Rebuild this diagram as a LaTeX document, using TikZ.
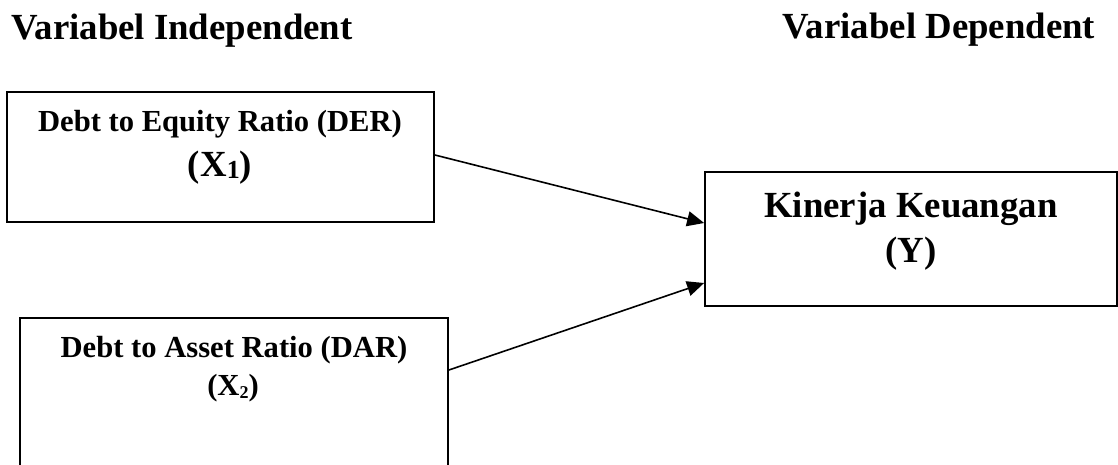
\documentclass[tikz,border=0pt]{standalone}
\usepackage{fontspec}
\setmainfont{Liberation Serif}
\usetikzlibrary{arrows.meta}
\tikzset{
  boxnode/.style={draw=black, line width=1.8pt, rectangle, inner sep=0pt},
  headtext/.style={anchor=base, inner sep=0pt, font=\fontsize{36.8}{40}\selectfont\bfseries},
  bigtext/.style={anchor=base, inner sep=0pt, font=\fontsize{36.8}{40}\selectfont\bfseries},
  midtext/.style={anchor=base, inner sep=0pt, font=\fontsize{30.6}{34}\selectfont\bfseries},
  link/.style={line width=1.6pt, -{Triangle[length=17pt,width=15pt]}}
}
\begin{document}
\begin{tikzpicture}[x=1pt,y=-1pt]
\useasboundingbox (0,0) rectangle (1118,464);
\clip (0,0) rectangle (1118,464);
% headings
\node[headtext] (hI) at (182,39) {Variabel Independent};
\node[headtext] (hD) at (939,38) {Variabel Dependent};
% boxes
\node[boxnode, minimum width=427pt, minimum height=130pt] (b1) at (220.5,157) {};
\node[boxnode, minimum width=428pt, minimum height=200pt] (b2) at (234,418) {};
\node[boxnode, minimum width=412pt, minimum height=134pt] (b3) at (911,239) {};
% texts
\node[midtext] (t1a) at (220,131) {Debt to Equity Ratio (DER)};
\node[bigtext] (t1b) at (220,176) {(X\raisebox{-2pt}{\fontsize{26}{28}\selectfont 1})};
\node[midtext] (t2a) at (234,357) {Debt to Asset Ratio (DAR)};
\node[midtext] (t2b) at (233,395) {(X\raisebox{-3pt}{\fontsize{18}{20}\selectfont 2})};
\node[bigtext] (t3a) at (911,217) {Kinerja Keuangan};
\node[bigtext] (t3b) at (911,262) {(Y)};
% arrows
\draw[link] ([yshift=2pt]b1.east) -- ([yshift=16pt]b3.west);
\draw[link] ([yshift=48pt]b2.east) -- ([yshift=-44pt]b3.west);
\end{tikzpicture}
\end{document}
